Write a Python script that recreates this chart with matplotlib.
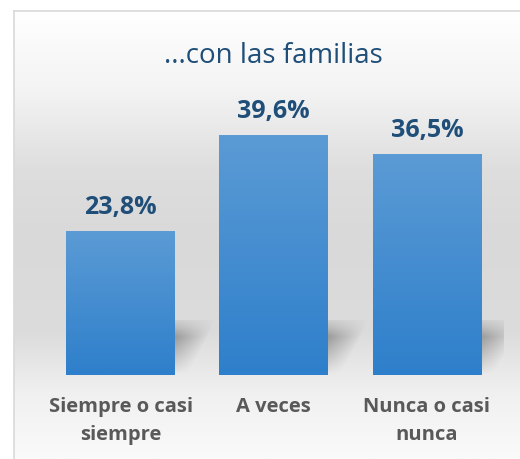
import numpy as np
import matplotlib
matplotlib.use('Agg')
import matplotlib.pyplot as plt
from matplotlib.colors import to_rgb

# data
categories = ['Siempre o casi\nsiempre', 'A veces', 'Nunca o casi\nnunca']
values = [23.8, 39.6, 36.5]
labels = ['23,8%', '39,6%', '36,5%']
title = '...con las familias'

plt.rcParams['font.family'] = ['Open Sans', 'DejaVu Sans']

fig = plt.figure(figsize=(5.2, 4.59), dpi=100)
fig.patch.set_facecolor('white')

# background panel with vertical grey gradient
bg = fig.add_axes([14 / 520, 0, 1 - 14 / 520, 1 - 11 / 459])
stops_y = [0.0, 0.18, 0.35, 0.5, 0.72, 0.85, 1.0]
stops_c = ['#ffffff', '#f3f3f3', '#dedede', '#d9d9d9', '#dcdcdc', '#f0f0f0', '#fafafa']
yy = np.linspace(0, 1, 300)
cols = np.array([to_rgb(c) for c in stops_c])
grad = np.stack([np.interp(yy, stops_y, cols[:, k]) for k in range(3)], axis=1)
bg.imshow(grad[:, None, :], aspect='auto', extent=[0, 1, 1, 0])
bg.set_xlim(0, 1)
bg.set_ylim(1, 0)
bg.set_xticks([])
bg.set_yticks([])
for s in ['right', 'bottom']:
    bg.spines[s].set_visible(False)
for s in ['left', 'top']:
    bg.spines[s].set_color('#d9d9d9')
    bg.spines[s].set_linewidth(1.2)

fig.text(273 / 520, 1 - 56 / 459, title, ha='center', va='center',
         fontsize=20, color='#1f4e79')

ax = fig.add_axes([44 / 520, 1 - 375 / 459, 459.5 / 520, 295 / 459])
ax.patch.set_alpha(0)
ymax = 295 / 6.05
w = 0.71

# floor shadows
nr, nc = 60, 60
r = np.linspace(0, 1, nr)[:, None]
c = np.linspace(0, 1, nc)[None, :]
reach = 1 - 0.7 * r
prof = np.interp(r, [0, 0.12, 0.3, 1], [0.06, 0.14, 0.3, 0.0])
alpha = np.clip(1 - c / reach, 0, 1) ** 0.9 * prof
shadow = np.zeros((nr, nc, 4))
shadow[..., 3] = alpha
for i in range(len(values)):
    ax.imshow(shadow, aspect='auto', extent=[i + w / 2, i + w / 2 + 0.27, 0, 9.0],
              zorder=1, interpolation='bilinear')

# bars with vertical gradient
top_c = np.array(to_rgb('#5b9bd5'))
bot_c = np.array(to_rgb('#2e7fcb'))
g = np.linspace(0, 1, 100)[:, None]
bar_grad = (top_c * (1 - g) + bot_c * g)[:, None, :]
for i, v in enumerate(values):
    ax.imshow(bar_grad, aspect='auto', extent=[i - w / 2, i + w / 2, 0, v], zorder=2)
    ax.text(i, v + 24 / 6.05, labels[i], ha='center', va='center', fontsize=18,
            fontweight='bold', color='#1f4e79')

ax.set_xlim(-0.5, 2.5)
ax.set_ylim(0, ymax)
ax.set_xticks(range(len(categories)))
ax.set_xticklabels(categories, fontsize=14.5, fontweight='bold', color='#595959',
                   linespacing=1.5)
ax.tick_params(axis='x', length=0, pad=16)
ax.set_yticks([])
for s in ax.spines.values():
    s.set_visible(False)

fig.savefig('out.png', dpi=100)
